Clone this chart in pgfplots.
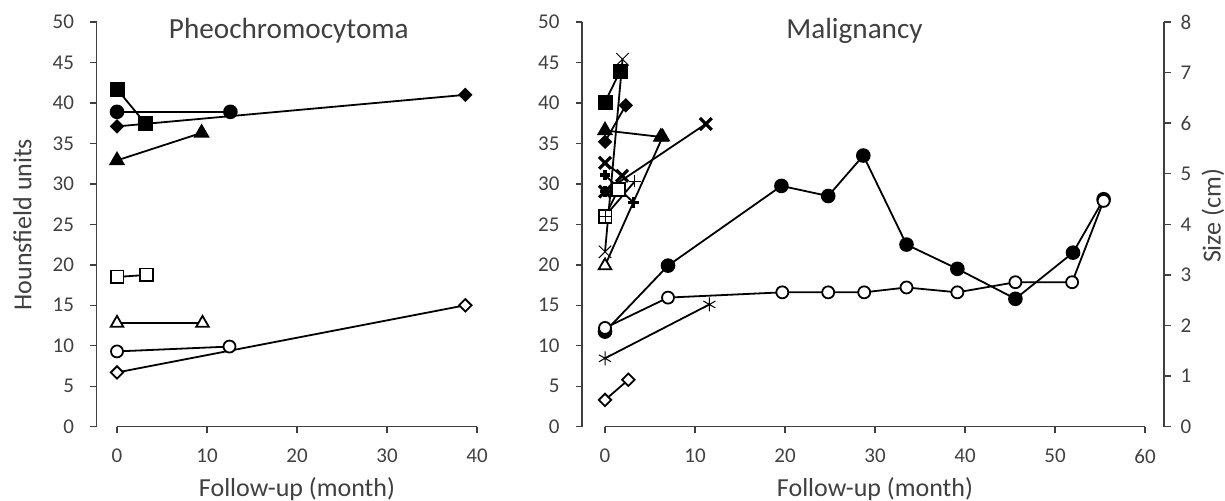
\documentclass[border=0pt]{standalone}
\usepackage{pgfplots}
\pgfplotsset{compat=1.18}
\usepackage{fontspec}
\setmainfont{Carlito}
\definecolor{axc}{RGB}{64,64,64}

% marker styles (filled/open variants, Excel-like)
\pgfplotsset{
  ser/.style={black, line width=0.9pt, mark options={solid, line width=0.7pt}},
  fsq/.style={ser, mark=square*, mark size=3.3pt, mark options={fill=black}},
  osq/.style={ser, mark=square*, mark size=3.2pt, mark options={fill=white}},
  fci/.style={ser, mark=*, mark size=3.2pt, mark options={fill=black}},
  oci/.style={ser, mark=*, mark size=3.0pt, mark options={fill=white}},
  ftr/.style={ser, mark=triangle*, mark size=3.8pt, mark options={fill=black}},
  otr/.style={ser, mark=triangle*, mark size=3.6pt, mark options={fill=white}},
  fdi/.style={ser, mark=square*, mark size=2.1pt, mark options={fill=black, rotate=45}},
  odi/.style={ser, mark=square*, mark size=2.2pt, mark options={fill=white, rotate=45}},
  bx/.style={ser, mark=x, mark size=4.2pt, mark options={line width=1.6pt}},
  tx/.style={ser, mark=x, mark size=4.4pt, mark options={line width=0.45pt}},
  bp/.style={ser, mark=+, mark size=2.6pt, mark options={line width=1.6pt}},
  tp/.style={ser, mark=+, mark size=3.0pt, mark options={line width=0.5pt}},
  ast/.style={ser, mark=asterisk, mark size=3.5pt, mark options={line width=0.5pt}},
  base/.style={
    scale only axis, clip=false,
    ymin=0, ymax=50, ytick={0,5,...,50},
    tick align=outside, major tick length=3.25pt,
    axis line style={axc, line width=0.7pt},
    every tick/.style={axc, line width=0.7pt},
    tick label style={font=\fontsize{10.5}{12}\selectfont, text=axc},
    yticklabel style={xshift=-4.5pt},
    xticklabel style={yshift=-4.5pt},
    /pgf/number format/assume math mode=true,
    axis y line*=left, axis x line*=bottom,
    x axis line style={draw=none},
  },
}

\begin{document}
\begin{tikzpicture}
\path[use as bounding box] (0,0) rectangle (612.5pt,250.5pt);

% ---- Pheochromocytoma ----
\begin{axis}[base, at={(48.25pt,37.15pt)}, anchor=south west,
  width=190.25pt, height=202.35pt,
  xmin=-2.278, xmax=40, xtick={0,10,...,40}]
\draw[axc, line width=0.7pt] (axis cs:0,0) -- (axis cs:40,0);
\addplot[fdi] coordinates {(0,37.1) (38.7,41.0)};
\addplot[fsq] coordinates {(0,41.7) (3.2,37.4)};
\addplot[fci] coordinates {(0,38.9) (12.6,38.9)};
\addplot[ftr] coordinates {(0,32.9) (9.4,36.3)};
\addplot[osq] coordinates {(0,18.5) (3.3,18.75)};
\addplot[otr] coordinates {(0,12.8) (9.5,12.8)};
\addplot[odi] coordinates {(0,6.7) (38.7,15.0)};
\addplot[oci] coordinates {(0,9.3) (12.5,9.9)};
\end{axis}

% ---- Malignancy ----
\begin{axis}[base, at={(291pt,37.15pt)}, anchor=south west,
  width=291pt, height=202.35pt,
  xmin=-2.556, xmax=62.111, xtick={0,10,...,60}]
\draw[axc, line width=0.7pt] (axis cs:0,0) -- (axis cs:60,0);
\addplot[fci] coordinates {(0,11.75) (7.0,19.9) (19.6,29.75) (24.8,28.5) (28.7,33.5) (33.5,22.5) (39.15,19.5) (45.6,15.8) (52.0,21.5) (55.4,28.1)};
\addplot[oci] coordinates {(0,12.2) (7.0,15.95) (19.7,16.6) (24.8,16.6) (28.8,16.6) (33.5,17.2) (39.15,16.6) (45.6,17.85) (51.9,17.85) (55.4,27.9)};
\addplot[ast] coordinates {(0,8.45) (11.6,15.1)};
\addplot[odi] coordinates {(0,3.3) (2.6,5.8)};
\addplot[tx] coordinates {(0,21.6) (1.95,45.4)};
\addplot[fsq] coordinates {(0,40.1) (1.67,43.9)};
\addplot[fdi] coordinates {(0,35.2) (2.3,39.7)};
\addplot[otr] coordinates {(0,19.9) (6.4,35.8)};
\addplot[ftr] coordinates {(0,36.6) (6.2,35.8)};
\addplot[osq] coordinates {(0,26.0) (1.5,29.3)};
\addplot[tp] coordinates {(0,26.0) (3.3,30.3)};
\addplot[bx] coordinates {(0,32.6) (1.9,31.0)};
\addplot[bx] coordinates {(0,29.05) (11.2,37.4)};
\addplot[bp] coordinates {(0,31.1) (3.15,27.7)};
\addplot[bp] coordinates {(0,29.05)};
\end{axis}

% secondary axis (size)
\begin{axis}[scale only axis, at={(291pt,37.15pt)}, anchor=south west,
  width=291pt, height=202.35pt,
  xmin=-2.556, xmax=62.111, ymin=0, ymax=8, ytick={0,...,8},
  axis y line*=right, axis x line=none,
  tick align=outside, major tick length=3.25pt,
  axis line style={axc, line width=0.7pt},
  every tick/.style={axc, line width=0.7pt},
  tick label style={font=\fontsize{10.5}{12}\selectfont, text=axc},
  yticklabel style={xshift=1.5pt},
  /pgf/number format/assume math mode=true]
\end{axis}

% titles and labels
\begin{scope}[every node/.style={text=axc, inner sep=0pt}]
\node[anchor=base, font=\fontsize{14.6}{17}\selectfont] at (144.4pt,231.35pt) {Pheochromocytoma};
\node[anchor=base, font=\fontsize{14.6}{17}\selectfont] at (427.25pt,231.35pt) {Malignancy};
\node[rotate=90, font=\fontsize{13}{15}\selectfont] at (11.25pt,138.25pt) {Hounsfield units};
\node[font=\fontsize{13}{15}\selectfont] at (148.5pt,6pt) {Follow-up (month)};
\node[font=\fontsize{13}{15}\selectfont] at (437.5pt,6pt) {Follow-up (month)};
\node[rotate=90, font=\fontsize{13}{15}\selectfont] at (606.5pt,142.5pt) {Size (cm)};
\end{scope}
\end{tikzpicture}
\end{document}
